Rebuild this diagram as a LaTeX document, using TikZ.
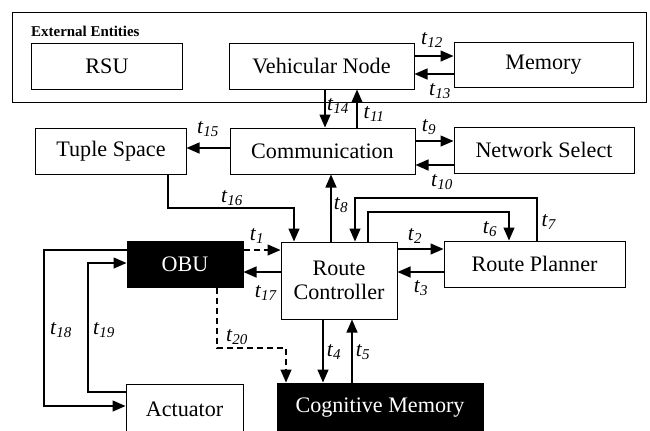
\documentclass[tikz,border=0pt]{standalone}
\usepackage{fontspec}
\setmainfont{Liberation Serif}
\usetikzlibrary{arrows.meta}
\newcommand{\tsub}[1]{\textit{t}\textsubscript{\textit{#1}}}
\tikzset{
  unit/.style={draw, line width=1bp, inner sep=0pt, align=center,
    font=\fontsize{22.2}{24}\selectfont},
  ublk/.style={unit, fill=black, text=white},
  frame/.style={draw, line width=1bp, inner sep=0pt},
  tlab/.style={font=\fontsize{21.5}{23}\selectfont, inner sep=0pt},
  farr/.style={-{Triangle[length=13bp,width=11bp]}, line width=1.4bp},
  dfarr/.style={farr, dash pattern=on 6bp off 4bp},
}

\begin{document}
\begin{tikzpicture}[x=1bp,y=-1bp]
\useasboundingbox (0,0) rectangle (650,430);
\fill[white] (0,0) rectangle (650,430);
% external entities
\node[frame, minimum width=633bp, minimum height=90bp] (ext) at (329.5,57) {};
\node[anchor=west, inner sep=0pt, font=\fontsize{15}{17}\selectfont\bfseries] (extlab) at (31,31) {External Entities};
\node[unit, minimum width=150bp, minimum height=46bp] (rsu) at (107,66) {RSU};
\node[unit, minimum width=185bp, minimum height=46bp] (vn) at (321.5,66) {Vehicular Node};
\node[unit, minimum width=179bp, minimum height=45bp] (mem) at (543.5,64.5) {Memory};
% middle row
\node[unit, minimum width=150bp, minimum height=46bp] (ts) at (111,151) {Tuple Space};
\node[unit, minimum width=185bp, minimum height=46bp] (comm) at (322.5,151) {Communication};
\node[unit, minimum width=180bp, minimum height=46bp] (ns) at (544,150) {Network Select};
% core
\node[unit, minimum width=116bp, minimum height=77bp] (rc) at (339,280.5) {Route\\Controller};
\node[unit, minimum width=181bp, minimum height=46bp] (rp) at (534.5,264) {Route Planner};
\node[ublk, minimum width=116bp, minimum height=46bp] (obu) at (185,264) {OBU};
\node[unit, minimum width=117bp, minimum height=50bp] (act) at (184.5,409) {Actuator};
\node[ublk, minimum width=206bp, minimum height=50bp] (cm) at (380,408) {Cognitive Memory};

% transitions
\draw[farr] (vn.east |- 0,56) -- (mem.west |- 0,56);
\draw[farr] (mem.west |- 0,74) -- (vn.east |- 0,74);
\draw[farr] (vn.south -| 325,0) -- (comm.north -| 325,0);
\draw[farr] (comm.north -| 357,0) -- (vn.south -| 357,0);
\draw[farr] (comm.east |- 0,141) -- (ns.west |- 0,141);
\draw[farr] (ns.west |- 0,165) -- (comm.east |- 0,165);
\draw[farr] (comm.west |- 0,148) -- (ts.east |- 0,148);
\draw[farr] (ts.south -| 168,0) |- (294,208) -- (rc.north -| 294,0);
\draw[farr] (rc.north -| 331,0) -- (comm.south -| 331,0);
\draw[farr] (rp.north -| 537,0) |- (355,198) -- (rc.north -| 355,0);
\draw[farr] (rc.north -| 368,0) |- (509,212) -- (rp.north -| 509,0);
\draw[farr] (rc.east |- 0,249) -- (rp.west |- 0,249);
\draw[farr] (rp.west |- 0,272) -- (rc.east |- 0,272);
\draw[dfarr] (obu.east |- 0,250) -- (rc.west |- 0,250);
\draw[farr] (rc.west |- 0,272) -- (obu.east |- 0,272);
\draw[farr] (obu.west |- 0,250) -| (44,406) -- (act.west |- 0,406);
\draw[farr] (act.west |- 0,392) -| (88,263) -- (obu.west |- 0,263);
\draw[dfarr] (obu.south -| 217,0) |- (286,348) -- (cm.north -| 286,0);
\draw[farr] (rc.south -| 323,0) -- (cm.north -| 323,0);
\draw[farr] (cm.north -| 352,0) -- (rc.south -| 352,0);

% labels
\node[tlab] (l12) at (432,40) {\tsub{12}};
\node[tlab] (l13) at (440,91) {\tsub{13}};
\node[tlab] (l14) at (338,106) {\tsub{14}};
\node[tlab] (l11) at (374,114) {\tsub{11}};
\node[tlab] (l9) at (429,127) {\tsub{9}};
\node[tlab] (l10) at (442,182) {\tsub{10}};
\node[tlab] (l15) at (208,129) {\tsub{15}};
\node[tlab] (l16) at (232,198) {\tsub{16}};
\node[tlab] (l8) at (341,205) {\tsub{8}};
\node[tlab] (l7) at (549,222) {\tsub{7}};
\node[tlab] (l6) at (490,229) {\tsub{6}};
\node[tlab] (l2) at (415,236) {\tsub{2}};
\node[tlab] (l3) at (421,288) {\tsub{3}};
\node[tlab] (l1) at (257,236) {\tsub{1}};
\node[tlab] (l17) at (266,293) {\tsub{17}};
\node[tlab] (l18) at (61,330) {\tsub{18}};
\node[tlab] (l19) at (104,330) {\tsub{19}};
\node[tlab] (l20) at (237,337) {\tsub{20}};
\node[tlab] (l4) at (334,352) {\tsub{4}};
\node[tlab] (l5) at (363,352) {\tsub{5}};
\end{tikzpicture}
\end{document}
